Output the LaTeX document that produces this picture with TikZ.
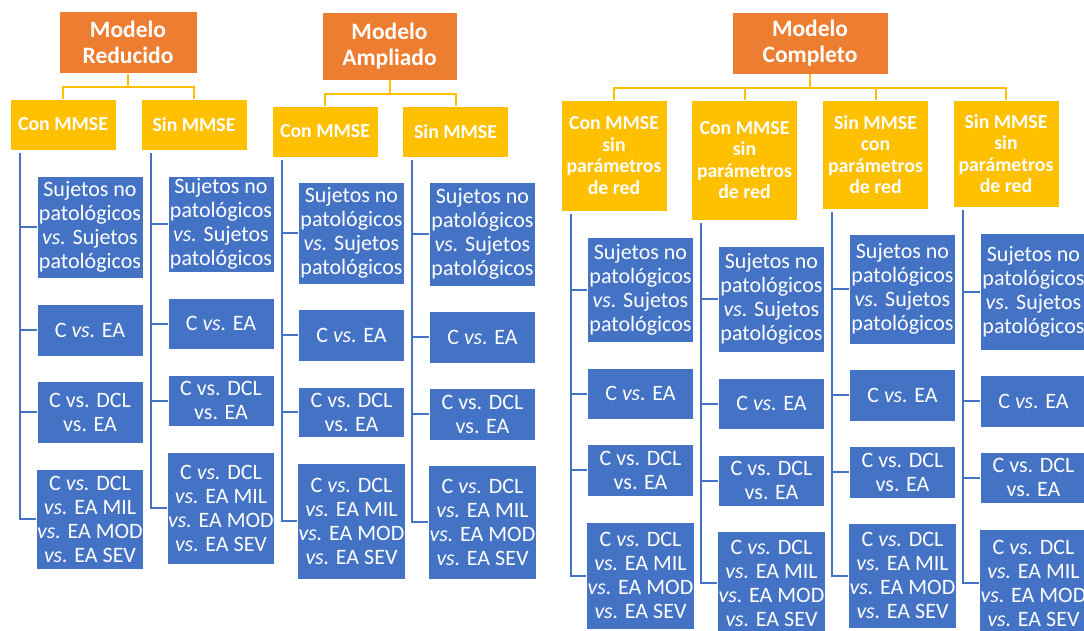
\documentclass[tikz,border=0pt]{standalone}
\usepackage{fontspec}
\setmainfont{Carlito}
\usepackage{tikz}
\usetikzlibrary{calc}
\definecolor{naranja}{HTML}{ED7D31}
\definecolor{amarillo}{HTML}{FFC000}
\definecolor{azul}{HTML}{4472C4}
\newcommand{\vsi}{\textit{vs.}}
\newcommand{\txtsuj}{Sujetos no\\patológicos\\\vsi{} Sujetos\\patológicos}
\newcommand{\txtea}{C \vsi{} EA}
\newcommand{\txtdcl}{C vs. DCL\\vs. EA}
\newcommand{\txtsev}{C \vsi{} DCL\\\vsi{} EA MIL\\\vsi{} EA MOD\\\vsi{} EA SEV}

\begin{document}
\begin{tikzpicture}[
  x=1pt, y=-1pt,
  modelo/.style={draw=white, line width=0.8pt, fill=naranja, text=white, minimum width=#1,
                 minimum height=62, inner sep=1pt, align=center,
                 font=\fontsize{23.5}{26}\selectfont\bfseries},
  grupo/.style={draw=white, line width=0.8pt, fill=amarillo, text=white, minimum width=106,
                minimum height=#1, inner sep=1pt, align=center,
                font=\fontsize{19.8}{21.5}\selectfont\bfseries},
  hoja/.style={draw=white, line width=0.8pt, fill=azul, text=white, minimum width=106,
               minimum height=#1, inner sep=1pt, align=center,
               font=\fontsize{22}{24}\selectfont},
  enlace/.style={draw=amarillo, line width=2pt,
                 to path={(\tikztostart) -- ++(0,13.5) -| (\tikztotarget)}},
  rama/.style={draw=azul, line width=2pt}
]
  \path[use as bounding box] (0,0) rectangle (1084,630);
  \clip (0,0) rectangle (1084,630);

  % Modelos
  \node[modelo=138] (mred) at (128,42.5) {Modelo\\Reducido};
  \node[modelo=135, minimum height=68] (mamp) at (389.5,46) {Modelo\\Ampliado};
  \node[modelo=156] (mcom) at (810,43) {Modelo\\Completo};

  % Grupos
  \node[grupo=51] (red1) at (63,124.5) {Con MMSE};
  \node[grupo=51] (red2) at (194,124.5) {Sin MMSE};
  \node[grupo=51] (amp1) at (325,131.5) {Con MMSE};
  \node[grupo=51] (amp2) at (455.5,131.5) {Sin MMSE};
  \node[grupo=111] (com1) at (614,155.5) {Con MMSE\\sin\\parámetros\\de red};
  \node[grupo=120] (com2) at (744.5,160) {Con MMSE\\sin\\parámetros\\de red};
  \node[grupo=109] (com3) at (875.5,154.5) {Sin MMSE\\con\\parámetros\\de red};
  \node[grupo=107] (com4) at (1006,153.5) {Sin MMSE\\sin\\parámetros\\de red};

  % Comparaciones, Modelo Reducido
  \node[hoja=102] (red1a) at (90,227) {\txtsuj};
  \node[hoja=52] (red1b) at (90,330) {\txtea};
  \node[hoja=62] (red1c) at (90,412) {\txtdcl};
  \node[hoja=100] (red1d) at (90,519) {\txtsev};
  \node[hoja=96] (red2a) at (221,224) {\txtsuj};
  \node[hoja=51] (red2b) at (221,323.5) {\txtea};
  \node[hoja=51] (red2c) at (221,400.5) {\txtdcl};
  \node[hoja=112] (red2d) at (221,508) {\txtsev};

  % Comparaciones, Modelo Ampliado
  \node[hoja=102] (amp1a) at (351.5,233) {\txtsuj};
  \node[hoja=52] (amp1b) at (351.5,335) {\txtea};
  \node[hoja=50] (amp1c) at (351.5,412) {\txtdcl};
  \node[hoja=116] (amp1d) at (351.5,521) {\txtsev};
  \node[hoja=104] (amp2a) at (482.5,234) {\txtsuj};
  \node[hoja=52] (amp2b) at (482.5,337) {\txtea};
  \node[hoja=52] (amp2c) at (482.5,414) {\txtdcl};
  \node[hoja=114] (amp2d) at (482.5,522) {\txtsev};

  % Comparaciones, Modelo Completo
  \node[hoja=105] (com1a) at (640.5,289.5) {\txtsuj};
  \node[hoja=51] (com1b) at (640.5,393.5) {\txtea};
  \node[hoja=52] (com1c) at (640.5,470) {\txtdcl};
  \node[hoja=107] (com1d) at (640.5,575.5) {\txtsev};
  \node[hoja=106] (com2a) at (771.5,299) {\txtsuj};
  \node[hoja=51] (com2b) at (771.5,403.5) {\txtea};
  \node[hoja=51] (com2c) at (771.5,480.5) {\txtdcl};
  \node[hoja=104] (com2d) at (771.5,583) {\txtsev};
  \node[hoja=110] (com3a) at (902.5,289) {\txtsuj};
  \node[hoja=52] (com3b) at (902.5,395) {\txtea};
  \node[hoja=52] (com3c) at (902.5,472) {\txtdcl};
  \node[hoja=105] (com3d) at (902.5,575.5) {\txtsev};
  \node[hoja=117] (com4a) at (1033.5,291.5) {\txtsuj};
  \node[hoja=52] (com4b) at (1033.5,401) {\txtea};
  \node[hoja=51] (com4c) at (1033.5,477.5) {\txtdcl};
  \node[hoja=108] (com4d) at (1033.5,583) {\txtsev};

  % Conectores
  \foreach \m/\g in {mred/red1, mred/red2, mamp/amp1, mamp/amp2,
                     mcom/com1, mcom/com2, mcom/com3, mcom/com4} {
    \draw[enlace] (\m.south) to (\g.north);
  }
  \foreach \g in {red1, red2, amp1, amp2, com1, com2, com3, com4} {
    \coordinate (\g s) at ($(\g.south west)+(10,3)$);
    \foreach \h in {a, b, c, d}
      \draw[rama] (\g s) |- (\g\h.west);
  }
\end{tikzpicture}
\end{document}
